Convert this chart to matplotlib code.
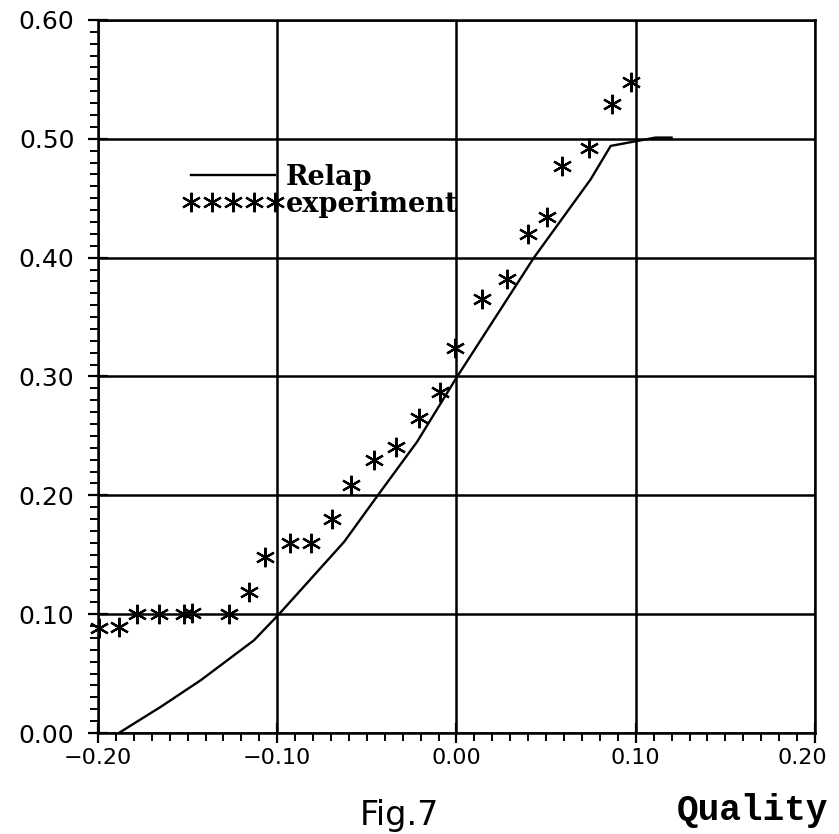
import numpy as np
import matplotlib
matplotlib.use('Agg')
import matplotlib.pyplot as plt
import matplotlib.transforms as mtransforms
from matplotlib.ticker import MultipleLocator, FuncFormatter

# Relap calculation (line)
relap_x = [-0.1884, -0.165, -0.1425, -0.113, -0.099, -0.0626, -0.0439, -0.022,
           0.0, 0.0432, 0.0749, 0.086, 0.111, 0.12]
relap_y = [0.0, 0.022, 0.0446, 0.078, 0.100, 0.161, 0.200, 0.245,
           0.299, 0.400, 0.466, 0.494, 0.501, 0.501]

# experiment (asterisks)
exp_x = [-0.1996, -0.1884, -0.1782, -0.1661, -0.1521, -0.1475, -0.1270, -0.1158,
         -0.1066, -0.0929, -0.0813, -0.0697, -0.0589, -0.0458, -0.0337, -0.0211,
         -0.0093, -0.0006, 0.014, 0.028, 0.040, 0.0507, 0.059, 0.0739, 0.087, 0.0972]
exp_y = [0.088, 0.089, 0.100, 0.1005, 0.1005, 0.101, 0.100, 0.1185,
         0.148, 0.160, 0.160, 0.180, 0.2086, 0.230, 0.241, 0.265,
         0.287, 0.324, 0.365, 0.382, 0.420, 0.434, 0.477, 0.492, 0.529, 0.548]

fig = plt.figure(figsize=(8.39, 8.34), dpi=100)
ax = fig.add_axes([0.1168, 0.1211, 0.8546, 0.855])

ax.plot(relap_x, relap_y, color='black', lw=1.7, label='Relap')
ax.plot(exp_x, exp_y, linestyle='none', marker=(6, 2, 0), markersize=14,
        markeredgewidth=1.6, color='black', label='experiment', clip_on=False)

ax.set_xlim(-0.20, 0.20)
ax.set_ylim(0.0, 0.60)
ax.xaxis.set_major_locator(MultipleLocator(0.1))
ax.xaxis.set_minor_locator(MultipleLocator(0.01))
ax.yaxis.set_major_locator(MultipleLocator(0.1))
ax.yaxis.set_minor_locator(MultipleLocator(0.01))
fmt = FuncFormatter(lambda v, p: ('%.2f' % v).replace('-', '\u2212'))
ax.xaxis.set_major_formatter(fmt)
ax.yaxis.set_major_formatter(fmt)
ax.grid(True, which='major', color='black', lw=1.8)
for s in ax.spines.values():
    s.set_linewidth(1.8)

ax.tick_params(which='major', direction='inout', length=14, width=1.6, pad=4)
ax.tick_params(which='minor', direction='out', length=6, width=1.4)
ax.tick_params(axis='x', which='major', labelsize=16)
ax.tick_params(axis='y', which='major', labelsize=18, pad=10)

# last x label sits a little left of its tick, as in the original
fig.canvas.draw()
last = ax.xaxis.get_major_ticks()[-1].label1
for t in ax.xaxis.get_major_ticks():
    if abs(t.get_loc() - 0.20) < 1e-9:
        last = t.label1
last.set_horizontalalignment('right')
last.set_transform(last.get_transform() +
                   mtransforms.ScaledTranslation(12 / 100, 0, fig.dpi_scale_trans))

ax.legend(loc='upper left', bbox_to_anchor=(0.118, 0.798), frameon=False,
          prop={'family': 'DejaVu Serif', 'weight': 'bold', 'size': 19.5},
          handlelength=3.7, numpoints=5, labelspacing=0.0,
          handletextpad=0.1, borderpad=0, borderaxespad=0)

fig.text(360 / 839, 1 - 825 / 834, 'Fig.7', family='DejaVu Sans', fontsize=24,
         ha='left', va='baseline')
fig.text(677 / 839, 1 - 820 / 834, 'Quality', family='Liberation Mono',
         weight='bold', fontsize=26, ha='left', va='baseline')

fig.savefig('out.png', dpi=100)
